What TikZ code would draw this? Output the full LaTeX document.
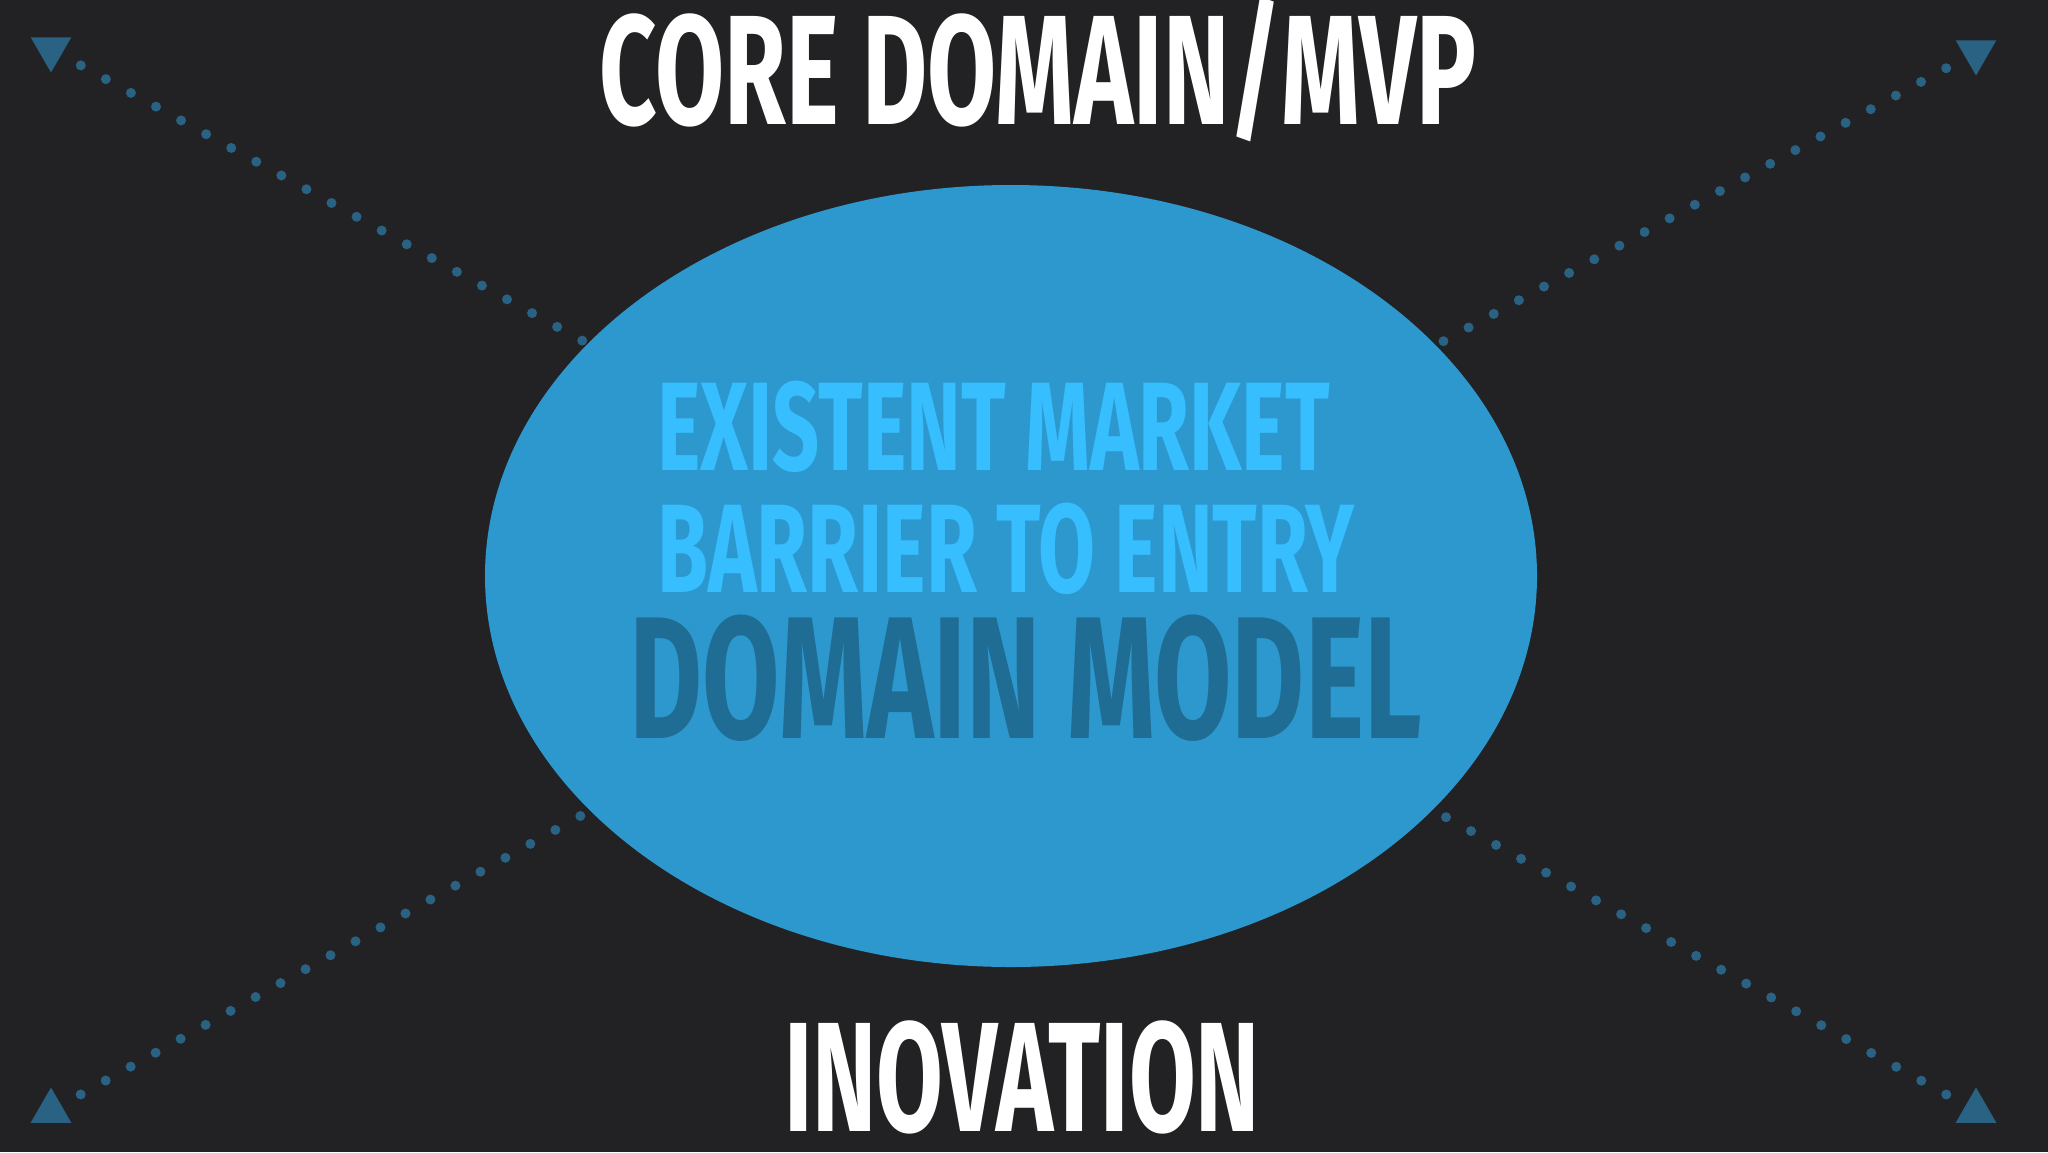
\documentclass[tikz,border=0pt]{standalone}
\usepackage{fontspec}
\setmainfont{Fira Sans}[FakeStretch=0.62]
\newfontfamily\titlefont{Fira Sans}[FakeStretch=0.642]
\newfontfamily\bubblefont{Fira Sans}[FakeStretch=0.655]
\newfontfamily\modelfont{Fira Sans}[FakeStretch=0.645]
\usetikzlibrary{shapes.geometric}

\definecolor{slate}{RGB}{34,34,36}
\definecolor{lagoon}{RGB}{45,152,206}
\definecolor{sky}{RGB}{54,190,255}
\definecolor{deepsea}{RGB}{31,108,148}
\definecolor{dotblue}{RGB}{42,98,132}

\tikzset{
  heading/.style={font=\fontsize{78}{78}\selectfont\bfseries, text=white, inner sep=0pt},
  bubble/.style={font=\bubblefont\fontsize{63}{63}\selectfont\bfseries, text=sky, inner sep=0pt},
  modeltext/.style={font=\modelfont\fontsize{87}{87}\selectfont\bfseries, text=deepsea, inner sep=0pt},
  tip/.style={regular polygon, regular polygon sides=3, fill=dotblue, minimum size=23.5pt, inner sep=0pt},
  dotline/.style={dotblue, line width=5pt, line cap=round, dash pattern=on 0pt off 14.3pt, shorten <=17pt}
}

\begin{document}
\begin{tikzpicture}[x=0.5pt,y=-0.5pt]
\fill[slate] (0,0) rectangle (2048,1152);
\useasboundingbox (0,0) rectangle (2048,1152);
% the big bubble
\node[ellipse, fill=lagoon, minimum width=526pt, minimum height=391pt, inner sep=0pt] (market) at (1011,576) {};
% corner tips
\node[tip, shape border rotate=180] (tl) at (51,49) {};
\node[tip, shape border rotate=180] (tr) at (1976,52) {};
\node[tip] (bl) at (51,1111) {};
\node[tip] (br) at (1976,1111) {};
\draw[dotline] (tl.center) -- (market);
\draw[dotline] (tr.center) -- (market);
\draw[dotline] (bl.center) -- (market);
\draw[dotline] (br.center) -- (market);
% labels
\node[heading, font=\titlefont\fontsize{78}{78}\selectfont\bfseries, anchor=base] (core) at (1038,124) {CORE DOMAIN/MVP};
\node[heading, anchor=base] (inovation) at (1022,1131) {INOVATION};
\node[bubble, anchor=base west] (existent) at (657,470) {EXISTENT MARKET};
\node[bubble, anchor=base west] (barrier) at (657,592) {BARRIER TO ENTRY};
\node[modeltext, anchor=base west] (domain) at (629,738) {DOMAIN MODEL};
\end{tikzpicture}
\end{document}
